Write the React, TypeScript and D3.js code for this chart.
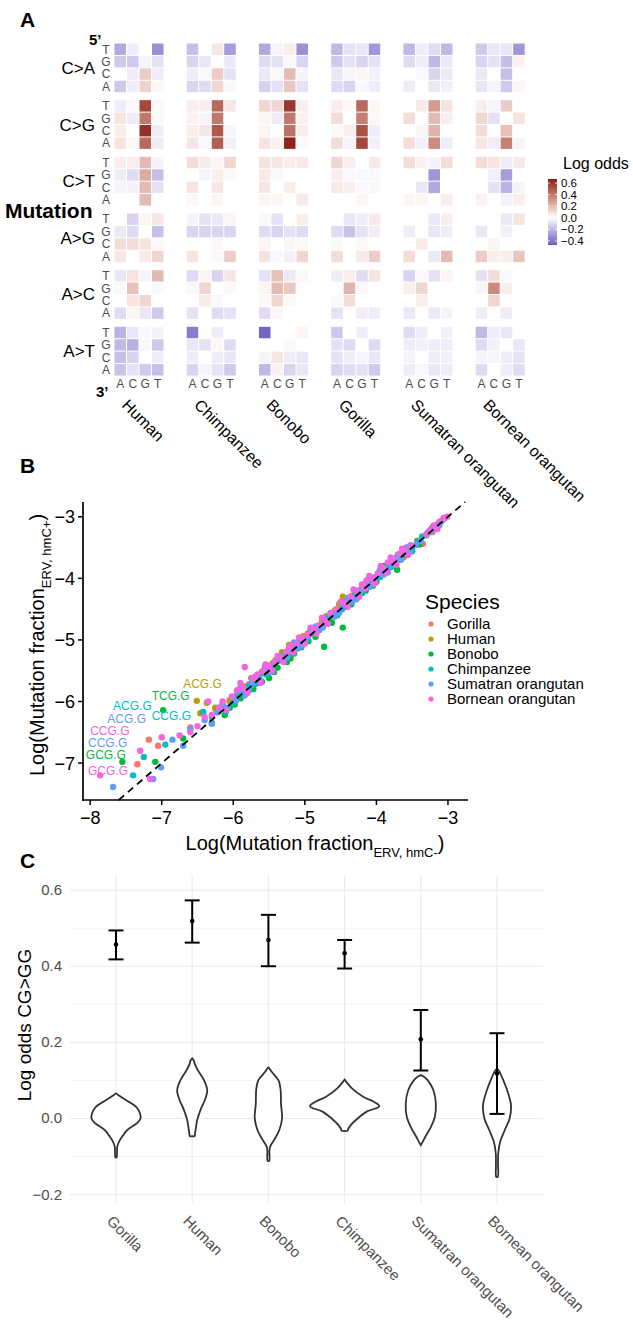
import React from "react";
import * as d3 from "d3";

const FONT = "Liberation Sans, Arial, Helvetica, sans-serif";

// ---------- panel A : heatmap ----------
const species = ["Human", "Chimpanzee", "Bonobo", "Gorilla", "Sumatran orangutan", "Bornean orangutan"];
const mutations = ["C>A", "C>G", "C>T", "A>G", "A>C", "A>T"];
const fivePrime = ["T", "G", "C", "A"];
const threePrime = ["A", "C", "G", "T"];

// each row: 5' base T,G,C,A  x  3' base A,C,G,T
const humanOdds = [
  [-0.25, -0.05, 0, -0.32, -0.15, -0.15, -0.03, -0.08, 0, -0.05, 0.15, -0.05, -0.15, -0.05, 0.13, 0.02],
  [-0.05, 0.02, 0.55, 0.02, 0.08, -0.05, 0.4, 0.02, 0.05, 0, 0.62, -0.05, 0.08, 0.02, 0.45, -0.05],
  [0.05, 0.05, 0.2, -0.03, -0.05, -0.1, 0.25, -0.18, -0.03, -0.03, 0.2, -0.08, 0, 0, 0.2, 0],
  [0, -0.12, 0.03, 0.07, -0.06, -0.1, 0, -0.18, 0.1, 0.1, 0.08, 0.02, 0.07, 0, 0.06, 0.12],
  [-0.07, 0.08, -0.03, 0.2, 0.02, 0.18, 0, -0.02, 0, 0.08, 0.12, 0, -0.1, 0.03, -0.07, -0.15],
  [-0.22, -0.07, -0.02, -0.03, -0.2, -0.22, -0.02, -0.15, -0.18, -0.12, 0, -0.05, -0.17, -0.08, -0.15, -0.18],
];
const chimpOdds = [
  [-0.18, 0, 0.07, -0.28, -0.12, -0.07, 0, -0.06, -0.05, -0.02, 0.15, -0.08, -0.12, -0.1, 0.12, -0.02],
  [0.05, 0.05, 0.45, 0.07, 0.04, -0.03, 0.4, 0, 0.05, 0.07, 0.5, -0.03, 0.07, -0.02, 0.48, -0.04],
  [0.1, 0.06, 0.03, 0.12, 0, -0.03, 0.05, -0.02, 0.08, 0, 0.07, 0, 0.02, 0, 0.03, 0],
  [-0.03, -0.08, -0.06, 0.03, -0.12, -0.12, -0.12, -0.12, 0, 0, 0.02, 0, 0.08, 0, 0.02, 0.15],
  [-0.1, 0.03, -0.12, 0.07, -0.02, 0.12, 0, -0.02, 0, 0.06, -0.02, 0, -0.08, 0, -0.1, -0.08],
  [-0.38, 0, -0.05, 0, -0.07, -0.08, 0.02, -0.1, -0.05, 0, -0.05, -0.07, -0.12, -0.03, -0.08, -0.15],
];
const bonoboOdds = [
  [-0.25, -0.03, 0.05, -0.32, -0.1, -0.08, -0.02, -0.12, -0.06, 0.02, 0.2, -0.03, -0.13, -0.08, 0.16, -0.08],
  [0.12, 0.12, 0.6, 0.05, 0.03, -0.05, 0.4, 0.04, 0.03, 0, 0.42, 0.05, 0.08, 0.04, 0.65, -0.02],
  [0.08, 0.07, 0.05, 0.06, 0.06, -0.02, 0, 0, 0.07, 0, 0.05, 0, 0.03, 0.03, 0, 0.06],
  [-0.02, -0.08, 0, 0.05, -0.1, -0.12, -0.08, -0.1, 0.03, 0, 0.03, 0.02, 0.08, -0.02, -0.04, 0.12],
  [-0.08, 0.18, -0.06, 0.02, 0.03, 0.2, 0.16, 0, 0.02, 0.12, 0.02, 0, -0.1, 0.02, 0, 0],
  [-0.45, 0, 0, 0.03, 0, 0, 0.02, 0, -0.03, 0.07, -0.05, -0.07, -0.2, 0.04, -0.12, -0.07],
];
const gorillaOdds = [
  [-0.2, -0.08, -0.07, -0.3, -0.15, -0.08, -0.12, -0.08, -0.07, -0.03, 0.03, -0.04, -0.1, -0.12, -0.02, -0.05],
  [0.05, 0.02, 0.45, 0.03, 0.1, 0, 0.38, 0.02, 0.02, 0.05, 0.52, -0.05, 0.1, -0.03, 0.55, -0.04],
  [0.12, 0.05, 0, 0.06, 0.05, -0.02, -0.02, -0.02, 0.06, 0.05, -0.02, 0.02, 0, 0, 0.03, 0],
  [0, -0.07, -0.05, 0.06, -0.1, -0.17, -0.08, -0.05, 0.02, 0, 0.02, 0, 0.1, 0, 0.06, 0.15],
  [-0.05, 0.05, -0.1, 0.08, 0, 0.22, 0.02, 0, 0.02, 0.1, 0, 0, -0.08, 0, -0.05, -0.05],
  [-0.15, 0, -0.05, 0, -0.08, -0.1, 0, -0.1, -0.08, -0.05, -0.03, -0.07, -0.12, -0.1, -0.08, -0.15],
];
const sumatranOdds = [
  [-0.2, -0.05, -0.1, -0.2, -0.1, -0.05, -0.2, -0.06, 0, -0.02, -0.12, -0.06, -0.05, 0, -0.06, -0.04],
  [0, 0.06, 0.3, 0.08, 0.1, 0, 0.2, 0.05, 0, 0.03, 0.22, 0, 0.1, -0.04, 0.35, -0.05],
  [0.1, 0.04, -0.03, 0.1, 0, 0, -0.3, 0, 0, -0.07, -0.25, 0, 0.03, 0.03, 0, 0.05],
  [0, 0, -0.06, 0.05, -0.05, 0, -0.07, -0.05, 0, 0.06, 0, 0, 0.1, 0, -0.06, 0.2],
  [-0.12, 0.02, -0.08, 0.03, 0.05, 0.12, 0, 0, 0, 0.05, 0, 0, -0.06, 0, -0.06, -0.03],
  [-0.1, -0.05, 0, -0.04, -0.05, -0.04, -0.05, -0.05, -0.03, 0, -0.05, -0.04, -0.05, -0.02, -0.07, -0.05],
];
const borneanOdds = [
  [-0.15, -0.07, -0.07, -0.3, -0.12, -0.08, -0.18, 0.04, -0.06, 0, -0.18, 0, -0.07, -0.03, -0.15, 0.03],
  [0.05, -0.03, 0.15, 0, 0.12, -0.08, 0, 0.08, 0.1, 0, 0.18, 0, 0.07, -0.05, 0.38, -0.03],
  [0.1, 0.08, -0.05, 0.06, 0, -0.04, -0.28, 0, 0, -0.08, -0.22, -0.03, 0.04, 0, -0.04, 0.05],
  [0, 0, -0.06, 0.08, -0.07, 0, -0.04, 0, 0, 0.03, 0, 0, 0.15, 0.05, 0.05, 0.17],
  [-0.08, 0.1, -0.02, 0, 0.03, 0.35, 0.05, 0, 0, 0.12, 0, 0, -0.05, 0, -0.05, 0],
  [-0.2, -0.05, -0.07, 0, -0.1, -0.04, 0, -0.07, -0.03, -0.03, -0.05, -0.08, -0.1, 0, -0.05, -0.1],
];
const heatOdds = [humanOdds, chimpOdds, bonoboOdds, gorillaOdds, sumatranOdds, borneanOdds];
const legendTicks = [0.6, 0.4, 0.2, 0.0, -0.2, -0.4];

// ---------- panel B : scatter ----------
const scatterSpecies = ["Gorilla", "Human", "Bonobo", "Chimpanzee", "Sumatran orangutan", "Bornean orangutan"];
const speciesColors = ["#F8766D", "#B79F00", "#00BA38", "#00BFC4", "#619CFF", "#F564E3"];

const gorillaPts = [
  [-7.34, -7.02], [-7.18, -6.62], [-7.05, -6.72], [-6.6, -6.42], [-6.25, -6.12], [-6.05, -5.98], [-5.92, -5.8],
  [-5.78, -5.72], [-5.66, -5.58], [-5.52, -5.48], [-5.41, -5.33], [-5.28, -5.22], [-5.18, -5.14], [-5.08, -5.02],
  [-4.98, -4.96], [-4.88, -4.9], [-4.76, -4.72], [-4.64, -4.66], [-4.52, -4.46], [-4.38, -4.34], [-4.28, -4.22],
  [-4.18, -4.14], [-4.08, -4.1], [-3.98, -3.94], [-3.88, -3.86], [-3.78, -3.72], [-3.62, -3.66], [-3.35, -3.44],
  [-3.22, -3.25], [-3.08, -3.06], [-6.15, -6.08], [-5.98, -5.94], [-5.84, -5.76], [-5.72, -5.66], [-5.6, -5.54],
  [-5.46, -5.42], [-5.34, -5.3], [-5.24, -5.18], [-5.12, -5.08], [-5.02, -5.0], [-4.92, -4.84], [-4.82, -4.8],
  [-4.7, -4.62], [-4.58, -4.56], [-4.46, -4.42], [-4.34, -4.28], [-4.22, -4.2], [-4.12, -4.06], [-4.04, -4.0],
  [-3.94, -3.88], [-3.84, -3.8], [-3.7, -3.68],
];
const humanPts = [
  [-6.51, -5.99], [-6.37, -6.02], [-6.46, -6.19], [-6.15, -6.05], [-5.95, -5.9], [-5.75, -5.62], [-5.6, -5.52],
  [-5.45, -5.38], [-5.32, -5.2], [-5.22, -5.08], [-5.12, -5.1], [-5.02, -4.94], [-4.92, -4.85], [-4.82, -4.78],
  [-4.7, -4.62], [-4.58, -4.52], [-4.47, -4.3], [-4.35, -4.3], [-4.22, -4.18], [-4.12, -4.02], [-4.02, -3.98],
  [-3.92, -3.85], [-3.82, -3.8], [-3.7, -3.62], [-3.55, -3.5], [-3.43, -3.39], [-3.25, -3.22], [-3.12, -3.1],
  [-6.25, -6.1], [-6.05, -6.0], [-5.85, -5.76], [-5.68, -5.64], [-5.52, -5.46], [-5.38, -5.3], [-5.26, -5.24],
  [-5.16, -5.06], [-5.06, -5.02], [-4.96, -4.9], [-4.86, -4.82], [-4.76, -4.68], [-4.64, -4.6], [-4.52, -4.42],
  [-4.4, -4.36], [-4.28, -4.22], [-4.16, -4.12], [-4.06, -4.06], [-3.96, -3.9], [-3.86, -3.8], [-3.76, -3.7],
  [-3.6, -3.56],
];
const bonoboPts = [
  [-6.98, -6.14], [-7.55, -6.98], [-7.09, -6.98], [-6.7, -6.6], [-6.3, -6.35], [-6.12, -6.22], [-5.98, -6.05],
  [-5.85, -5.9], [-5.72, -5.8], [-5.6, -5.68], [-5.5, -5.62], [-5.38, -5.45], [-5.25, -5.36], [-5.15, -5.22],
  [-5.05, -5.12], [-4.95, -5.02], [-4.85, -4.95], [-4.73, -5.11], [-4.62, -4.72], [-4.47, -4.8], [-4.35, -4.42],
  [-4.25, -4.3], [-4.15, -4.2], [-4.05, -4.12], [-3.95, -3.98], [-3.85, -3.9], [-3.71, -3.86], [-3.6, -3.62],
  [-3.4, -3.45], [-3.28, -3.26], [-3.15, -3.13], [-6.2, -6.12], [-6.05, -6.1], [-5.9, -5.95], [-5.78, -5.75],
  [-5.65, -5.7], [-5.55, -5.5], [-5.43, -5.52], [-5.3, -5.28], [-5.2, -5.3], [-5.1, -5.08], [-5.0, -5.05],
  [-4.9, -4.88], [-4.8, -4.84], [-4.68, -4.66], [-4.55, -4.6], [-4.42, -4.46], [-4.3, -4.26], [-4.2, -4.24],
  [-4.1, -4.06], [-4.0, -4.06], [-3.9, -3.8], [-3.78, -3.8], [-3.5, -3.56], [-3.22, -3.18],
];
const chimpPts = [
  [-7.4, -7.2], [-7.25, -6.9], [-6.95, -6.7], [-6.42, -6.17], [-6.2, -6.1], [-6.0, -6.02], [-5.88, -5.84],
  [-5.76, -5.74], [-5.64, -5.6], [-5.54, -5.56], [-5.44, -5.4], [-5.34, -5.3], [-5.24, -5.26], [-5.14, -5.1],
  [-5.04, -5.06], [-4.94, -4.9], [-4.84, -4.86], [-4.72, -4.7], [-4.6, -4.58], [-4.48, -4.5], [-4.36, -4.32],
  [-4.24, -4.26], [-4.12, -4.1], [-4.02, -4.04], [-3.92, -3.9], [-3.8, -3.82], [-3.66, -3.64], [-3.5, -3.52],
  [-3.36, -3.32], [-3.18, -3.2], [-6.3, -6.25], [-6.1, -6.16], [-5.94, -5.9], [-5.82, -5.78], [-5.7, -5.72],
  [-5.58, -5.5], [-5.48, -5.52], [-5.38, -5.34], [-5.28, -5.22], [-5.18, -5.2], [-5.08, -5.02], [-4.98, -5.0],
  [-4.88, -4.82], [-4.78, -4.8], [-4.66, -4.62], [-4.54, -4.56], [-4.42, -4.38], [-4.3, -4.28], [-4.18, -4.2],
  [-4.06, -4.0], [-3.96, -3.98], [-3.86, -3.84], [-3.74, -3.74], [-3.58, -3.56], [-3.42, -3.4], [-3.26, -3.24],
  [-3.1, -3.08],
];
const sumatranPts = [
  [-7.68, -7.39], [-7.12, -7.26], [-7.01, -7.07], [-6.85, -6.62], [-6.6, -6.45], [-6.4, -6.3], [-6.22, -6.18],
  [-6.08, -6.1], [-5.96, -5.98], [-5.84, -5.9], [-5.74, -5.7], [-5.62, -5.66], [-5.5, -5.52], [-5.4, -5.36],
  [-5.3, -5.34], [-5.2, -5.18], [-5.1, -5.14], [-5.0, -5.02], [-4.9, -4.86], [-4.8, -4.84], [-4.7, -4.74],
  [-4.58, -4.62], [-4.46, -4.44], [-4.34, -4.38], [-4.22, -4.2], [-4.1, -4.14], [-4.0, -3.98], [-3.9, -3.94],
  [-3.78, -3.8], [-3.66, -3.7], [-3.52, -3.56], [-3.38, -3.4], [-3.22, -3.21], [-3.04, -3.02], [-6.3, -6.36],
  [-6.15, -6.05], [-5.9, -5.8], [-5.78, -5.82], [-5.56, -5.44], [-5.45, -5.5], [-5.25, -5.28], [-5.15, -5.04],
  [-5.05, -5.1], [-4.95, -4.94], [-4.85, -4.78], [-4.75, -4.8], [-4.64, -4.58], [-4.52, -4.56], [-4.4, -4.32],
  [-4.28, -4.34], [-4.16, -4.1], [-4.05, -4.1], [-3.95, -3.86], [-3.84, -3.9], [-3.72, -3.66], [-3.58, -3.5],
  [-3.45, -3.46], [-3.3, -3.3], [-3.12, -3.14], [-6.7, -6.72],
];
const borneanPts = [
  [-7.86, -7.2], [-7.16, -7.26], [-7.3, -6.8], [-7.0, -6.58], [-6.75, -6.55], [-6.5, -6.4], [-6.3, -6.22],
  [-6.15, -6.0], [-6.02, -5.92], [-5.95, -5.82], [-5.84, -5.44], [-5.86, -5.78], [-5.74, -5.62], [-5.66, -5.56],
  [-5.58, -5.5], [-5.5, -5.42], [-5.42, -5.36], [-5.34, -5.28], [-5.26, -5.2], [-5.2, -5.1], [-5.12, -5.06],
  [-5.04, -4.98], [-4.96, -4.92], [-4.88, -4.84], [-4.8, -4.76], [-4.72, -4.68], [-4.64, -4.56], [-4.56, -4.5],
  [-4.44, -4.4], [-4.36, -4.3], [-4.28, -4.2], [-4.2, -4.1], [-4.14, -4.04], [-4.06, -4.0], [-3.98, -3.92],
  [-3.9, -3.84], [-3.84, -3.74], [-3.76, -3.7], [-3.68, -3.6], [-3.6, -3.54], [-3.52, -3.46], [-3.3, -3.28],
  [-3.2, -3.14], [-3.12, -3.08], [-3.01, -3.0], [-6.2, -6.1], [-6.1, -6.14], [-5.9, -5.7], [-5.8, -5.86],
  [-5.7, -5.6], [-5.62, -5.7], [-5.55, -5.4], [-5.46, -5.5], [-5.38, -5.26], [-5.3, -5.36], [-5.22, -5.12],
  [-5.16, -5.2], [-5.08, -4.96], [-5.0, -5.06], [-4.92, -4.8], [-4.84, -4.9], [-4.76, -4.64], [-4.68, -4.74],
  [-4.5, -4.38], [-4.4, -4.46], [-4.32, -4.18], [-4.24, -4.3], [-4.16, -4.16], [-4.1, -3.96], [-4.02, -4.08],
  [-3.94, -3.8], [-3.86, -3.9], [-3.8, -3.66], [-3.72, -3.78], [-3.64, -3.52], [-3.56, -3.62], [-3.25, -3.22],
  [-3.15, -3.2], [-3.06, -3.02], [-6.4, -6.25], [-6.6, -6.5], [-6.35, -6.0],
];
const scatterPts = [gorillaPts, humanPts, bonoboPts, chimpPts, sumatranPts, borneanPts];

// context labels (species index, text, position in data units)
const contextLabels = [
  { sp: 1, text: "ACG.G", x: -6.7, y: -5.78 },
  { sp: 2, text: "TCG.G", x: -7.14, y: -5.98 },
  { sp: 3, text: "ACG.G", x: -7.68, y: -6.14 },
  { sp: 4, text: "ACG.G", x: -7.76, y: -6.35 },
  { sp: 3, text: "CCG.G", x: -7.14, y: -6.3 },
  { sp: 5, text: "CCG.G", x: -8.0, y: -6.54 },
  { sp: 4, text: "CCG.G", x: -8.03, y: -6.74 },
  { sp: 2, text: "GCG.G", x: -8.06, y: -6.93 },
  { sp: 5, text: "GCG.G", x: -8.03, y: -7.19 },
];
const bTicksX = [-8, -7, -6, -5, -4, -3];
const bTicksY = [-7, -6, -5, -4, -3];

// ---------- panel C : violins ----------
const violinSpecies = ["Gorilla", "Human", "Bonobo", "Chimpanzee", "Sumatran orangutan", "Bornean orangutan"];
const ciMean = [0.457, 0.519, 0.469, 0.434, 0.208, 0.118];
const ciLow = [0.418, 0.462, 0.4, 0.394, 0.126, 0.012];
const ciHigh = [0.494, 0.573, 0.535, 0.469, 0.285, 0.224];
// [log odds, relative density]
const gorillaViolin = [
  [0.066, 0], [0.061, 0.07], [0.048, 0.29], [0.031, 0.57], [0.015, 0.68], [0, 0.7], [-0.012, 0.6], [-0.031, 0.31],
  [-0.045, 0.2], [-0.057, 0.11], [-0.074, 0.035], [-0.085, 0.03], [-0.102, 0.02], [-0.103, 0],
];
const humanViolin = [
  [0.158, 0], [0.152, 0.05], [0.144, 0.07], [0.127, 0.16], [0.1, 0.34], [0.074, 0.43], [0.048, 0.36], [0.03, 0.27],
  [0.013, 0.2], [-0.005, 0.14], [-0.022, 0.11], [-0.04, 0.08], [-0.046, 0.07], [-0.0465, 0],
];
const bonoboViolin = [
  [0.134, 0], [0.13, 0.04], [0.122, 0.1], [0.1, 0.29], [0.074, 0.35], [0.039, 0.36], [0, 0.39], [-0.031, 0.31],
  [-0.057, 0.16], [-0.074, 0.05], [-0.085, 0.03], [-0.111, 0.025], [-0.112, 0],
];
const chimpViolin = [
  [0.102, 0], [0.095, 0.06], [0.079, 0.21], [0.057, 0.53], [0.044, 0.83], [0.032, 0.99], [0.018, 0.63], [0, 0.37],
  [-0.018, 0.17], [-0.028, 0.1], [-0.032, 0.09], [-0.033, 0],
];
const sumatranViolin = [
  [0.114, 0], [0.11, 0.08], [0.1, 0.2], [0.074, 0.36], [0.039, 0.43], [0.004, 0.4], [-0.022, 0.29], [-0.048, 0.13],
  [-0.062, 0.05], [-0.07, 0],
];
const borneanViolin = [
  [0.131, 0], [0.125, 0.06], [0.109, 0.14], [0.074, 0.29], [0.035, 0.4], [0, 0.36], [-0.031, 0.22], [-0.061, 0.09],
  [-0.092, 0.035], [-0.12, 0.03], [-0.153, 0.025], [-0.154, 0],
];
const violins = [gorillaViolin, humanViolin, bonoboViolin, chimpViolin, sumatranViolin, borneanViolin];
const cMajor = [0.6, 0.4, 0.2, 0.0, -0.2];
const cMinor = [0.5, 0.3, 0.1, -0.1];

function PanelA() {
  const facetX = d3.scaleBand().domain(species).range([114, 525.2]).paddingInner(0.3075);
  const colX = d3.scaleBand().domain(threePrime).range([0, facetX.bandwidth()]);
  const groupY = d3.scaleBand().domain(mutations).range([43, 376]).paddingInner(0.1228);
  const rowY = d3.scaleBand().domain(fivePrime).range([0, groupY.bandwidth()]);
  const color = d3
    .scaleLinear<string>()
    .domain([-0.47, 0, 0.67])
    .range(["#6a5fc1", "#ffffff", "#8b1a1a"])
    .interpolate(d3.interpolateLab);
  const legY = d3.scaleLinear().domain([-0.47, 0.67]).range([245, 179]);
  const stops = d3.range(0, 21).map((i) => -0.47 + (i / 20) * 1.14);
  const gray = "#4d4d4d";
  return (
    <g>
      <text x={20} y={27} fontSize={21} fontWeight="bold">A</text>
      <text x={89} y={45} fontSize={15} fontWeight="bold">5’</text>
      <text x={96} y={397} fontSize={15} fontWeight="bold">3’</text>
      <text x={5} y={218} fontSize={21} fontWeight="bold">Mutation</text>
      {species.map((s, si) => (
        <g key={s} transform={`translate(${facetX(s)},0)`}>
          {mutations.map((m, mi) =>
            fivePrime.map((r, ri) =>
              threePrime.map((c, ci) => (
                <rect
                  key={m + r + c}
                  x={colX(c)! + 0.5}
                  y={groupY(m)! + rowY(r)! + 0.5}
                  width={colX.bandwidth() - 1}
                  height={rowY.bandwidth() - 1}
                  fill={color(heatOdds[si][mi][ri * 4 + ci])}
                />
              ))
            )
          )}
          {threePrime.map((c) => (
            <text key={c} x={colX(c)! + colX.bandwidth() / 2} y={388} fontSize={12} fill={gray} textAnchor="middle">
              {c}
            </text>
          ))}
          <text
            transform={`translate(${facetX.bandwidth() / 2 - 18},406) rotate(45)`}
            fontSize={16}
          >
            {s}
          </text>
        </g>
      ))}
      {mutations.map((m) => (
        <g key={m}>
          <text x={95} y={groupY(m)! + groupY.bandwidth() / 2 + 6} fontSize={17} textAnchor="end">
            {m}
          </text>
          {fivePrime.map((r) => (
            <text
              key={r}
              x={106}
              y={groupY(m)! + rowY(r)! + rowY.bandwidth() / 2 + 4.3}
              fontSize={12}
              fill={gray}
              textAnchor="middle"
            >
              {r}
            </text>
          ))}
        </g>
      ))}
      <defs>
        <linearGradient id="lo" x1="0" y1="1" x2="0" y2="0">
          {stops.map((v, i) => (
            <stop key={i} offset={i / 20} stopColor={color(v)} />
          ))}
        </linearGradient>
      </defs>
      <text x={563} y={169} fontSize={16}>Log odds</text>
      <rect x={548} y={179} width={9} height={66} fill="url(#lo)" />
      {legendTicks.map((t) => (
        <g key={t}>
          <line x1={548} x2={550} y1={legY(t)} y2={legY(t)} stroke="#fff" strokeWidth={0.8} />
          <line x1={555} x2={557} y1={legY(t)} y2={legY(t)} stroke="#fff" strokeWidth={0.8} />
          <text x={561} y={legY(t) + 4} fontSize={11.5}>
            {d3.format(".1f")(t)}
          </text>
        </g>
      ))}
    </g>
  );
}

function PanelB() {
  const x = d3.scaleLinear().domain([-8.1, -2.72]).range([83, 468]);
  const y = d3.scaleLinear().domain([-7.6, -2.76]).range([800, 502]);
  const fmt = d3.format("d");
  const lo = Math.max(x.domain()[0], y.domain()[0]);
  const hi = Math.min(x.domain()[1], y.domain()[1]);
  return (
    <g>
      <text x={20} y={473} fontSize={21} fontWeight="bold">B</text>
      {scatterPts.map((pts, si) =>
        pts.map((p, i) => (
          <circle key={si + "-" + i} cx={x(p[0])} cy={y(p[1])} r={3.2} fill={speciesColors[si]} />
        ))
      )}
      <line x1={x(lo)} y1={y(lo)} x2={x(hi)} y2={y(hi)} stroke="#000" strokeWidth={1.8} strokeDasharray="7,5" />
      {contextLabels.map((l, i) => (
        <text key={i} x={x(l.x)} y={y(l.y)} fontSize={12} fill={speciesColors[l.sp]}>
          {l.text}
        </text>
      ))}
      <line x1={83} x2={83} y1={502} y2={800.8} stroke="#000" strokeWidth={1.7} />
      <line x1={82.2} x2={468} y1={800} y2={800} stroke="#000" strokeWidth={1.7} />
      {bTicksX.map((t) => (
        <g key={t}>
          <line x1={x(t)} x2={x(t)} y1={800} y2={805} stroke="#000" strokeWidth={1.5} />
          <text x={x(t)} y={824} fontSize={18} textAnchor="middle">{fmt(t)}</text>
        </g>
      ))}
      {bTicksY.map((t) => (
        <g key={t}>
          <line x1={78} x2={83} y1={y(t)} y2={y(t)} stroke="#000" strokeWidth={1.5} />
          <text x={75} y={y(t) + 6.5} fontSize={18} textAnchor="end">{fmt(t)}</text>
        </g>
      ))}
      <text x={315} y={850} fontSize={20} textAnchor="middle">
        Log(Mutation fraction<tspan fontSize={13} dy={7}>ERV, hmC-</tspan>
        <tspan dy={-7}>)</tspan>
      </text>
      <text transform="translate(44,645) rotate(-90)" fontSize={20} textAnchor="middle">
        Log(Mutation fraction<tspan fontSize={13} dy={7}>ERV, hmC+</tspan>
        <tspan dy={-7}>)</tspan>
      </text>
      <text x={425} y={609} fontSize={21}>Species</text>
      {scatterSpecies.map((s, i) => (
        <g key={s}>
          <circle cx={431} cy={624 + i * 15} r={2.6} fill={speciesColors[i]} />
          <text x={447} y={624 + i * 15 + 5} fontSize={15}>{s}</text>
        </g>
      ))}
    </g>
  );
}

function PanelC() {
  const x = d3.scalePoint().domain(violinSpecies).range([116, 497]);
  const y = d3.scaleLinear().domain([-0.2, 0.6]).range([1194.6, 890.1]);
  const w = d3.scaleLinear().domain([0, 1]).range([0, 35]);
  const gray = "#4d4d4d";
  return (
    <g>
      <text x={20} y={868} fontSize={21} fontWeight="bold">C</text>
      {cMinor.map((t) => (
        <line key={t} x1={70} x2={543} y1={y(t)} y2={y(t)} stroke="#ebebeb" strokeWidth={0.6} />
      ))}
      {cMajor.map((t) => (
        <line key={t} x1={70} x2={543} y1={y(t)} y2={y(t)} stroke="#ebebeb" strokeWidth={1.2} />
      ))}
      {violinSpecies.map((s) => (
        <line key={s} x1={x(s)} x2={x(s)} y1={875} y2={1203} stroke="#ebebeb" strokeWidth={1.2} />
      ))}
      {cMajor.map((t) => (
        <text key={t} x={62} y={y(t) + 5} fontSize={15} fill={gray} textAnchor="end">
          {d3.format(".1f")(t)}
        </text>
      ))}
      {violinSpecies.map((s, i) => {
        const cx = x(s)!;
        const area = d3
          .area<number[]>()
          .y((d) => y(d[0]))
          .x0((d) => cx - w(d[1]))
          .x1((d) => cx + w(d[1]))
          .curve(d3.curveCatmullRom);
        return (
          <path key={s} d={area(violins[i]) || ""} fill="#fff" stroke="#333" strokeWidth={1.8} />
        );
      })}
      {violinSpecies.map((s, i) => {
        const cx = x(s)!;
        return (
          <g key={s}>
            <line x1={cx} x2={cx} y1={y(ciLow[i])} y2={y(ciHigh[i])} stroke="#000" strokeWidth={2} />
            <line x1={cx - 7.5} x2={cx + 7.5} y1={y(ciLow[i])} y2={y(ciLow[i])} stroke="#000" strokeWidth={2} />
            <line x1={cx - 7.5} x2={cx + 7.5} y1={y(ciHigh[i])} y2={y(ciHigh[i])} stroke="#000" strokeWidth={2} />
            <circle cx={cx} cy={y(ciMean[i])} r={2.3} fill="#000" />
            <text transform={`translate(${cx - 10},1222) rotate(45)`} fontSize={15} fill={gray}>
              {s}
            </text>
          </g>
        );
      })}
      <text transform="translate(31,1025) rotate(-90)" fontSize={19} textAnchor="middle">
        Log odds CG&gt;GG
      </text>
    </g>
  );
}

export default function App() {
  return (
    <svg
      width={633}
      height={1329}
      style={{ position: "absolute", left: 0, top: 0, background: "#fff" }}
      fontFamily={FONT}
    >
      <rect width={633} height={1329} fill="#fff" />
      <PanelA />
      <PanelB />
      <PanelC />
    </svg>
  );
}
